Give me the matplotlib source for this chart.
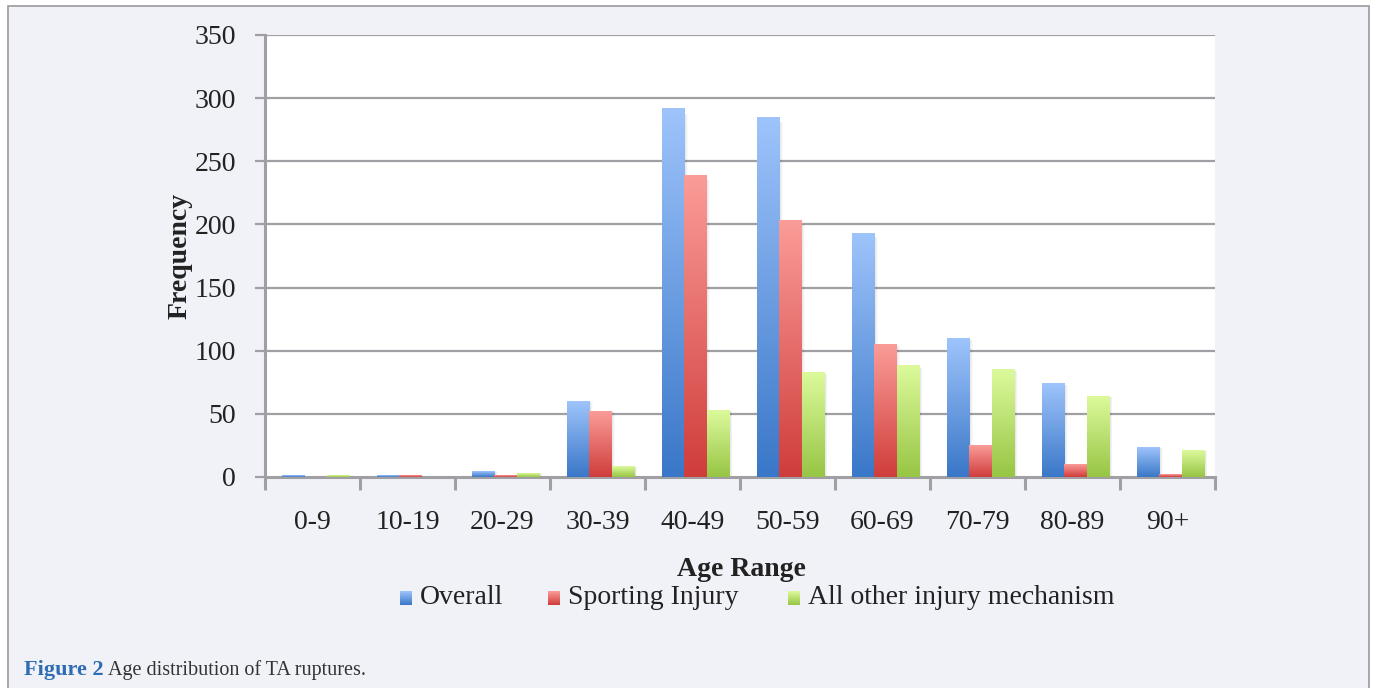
import numpy as np
import matplotlib
matplotlib.use("Agg")
import matplotlib.pyplot as plt
from matplotlib.patches import Rectangle
from matplotlib.colors import LinearSegmentedColormap

age_ranges = ["0-9", "10-19", "20-29", "30-39", "40-49", "50-59",
              "60-69", "70-79", "80-89", "90+"]
overall = [1, 1, 4, 60, 292, 285, 193, 110, 74, 23]
sporting = [0, 1, 1, 52, 239, 203, 105, 25, 10, 2]
other_mechanism = [1, 0, 3, 8, 53, 83, 88, 85, 64, 21]
series_names = ["Overall", "Sporting Injury", "All other injury mechanism"]
y_ticks = [0, 50, 100, 150, 200, 250, 300, 350]

# (top colour, bottom colour) for the vertical gradient fills
gradients = [("#9ec4fb", "#3a77c8"),
             ("#fb9c98", "#cf3d3b"),
             ("#dcfa9c", "#97c544")]

plt.rcParams["font.family"] = ["Liberation Serif", "DejaVu Serif"]

fig = plt.figure(figsize=(13.75, 6.88), dpi=100)
fig.patch.set_facecolor("white")

# page panel behind the figure
panel = Rectangle((8 / 1375, -0.01), (1369 - 8) / 1375, (688 - 6) / 688 + 0.01,
                  transform=fig.transFigure, facecolor="#f1f2f8",
                  edgecolor="#9a9a9e", linewidth=1.2, zorder=-10)
fig.patches.append(panel)

ax = fig.add_axes([265 / 1375, (688 - 477) / 688, 950 / 1375, 442 / 688])
ax.set_facecolor("white")
ax.set_xlim(0, len(age_ranges))
ax.set_ylim(0, 350)

grid_col = "#a0a0a4"
for t in y_ticks[1:]:
    ax.axhline(t, color=grid_col, linewidth=1.6, zorder=1)

bar_w = 0.235
start = 0.18
data = [overall, sporting, other_mechanism]


def gradient_bar(x, h, top, bottom, z=3):
    if h <= 0:
        return
    cmap = LinearSegmentedColormap.from_list("g", [bottom, top])
    grad = np.linspace(0, 1, 256).reshape(-1, 1)
    # soft shadow to the right of the bar
    for k, a in enumerate([0.05, 0.04, 0.03, 0.02]):
        ax.add_patch(Rectangle((x + bar_w - 0.004, 0), 0.01 * (k + 1),
                               h * 0.985, facecolor="black", alpha=a,
                               linewidth=0, zorder=z - 1))
    ax.imshow(grad, cmap=cmap, aspect="auto", origin="lower",
              extent=(x, x + bar_w, 0, h), zorder=z, vmin=0, vmax=1,
              interpolation="bilinear")


for s, vals in enumerate(data):
    top, bottom = gradients[s]
    for i, v in enumerate(vals):
        gradient_bar(i + start + s * bar_w, v, top, bottom)

ax.set_xlim(0, len(age_ranges))
ax.set_ylim(0, 350)

for side in ["top", "right"]:
    ax.spines[side].set_visible(False)
for side in ["left", "bottom"]:
    ax.spines[side].set_color(grid_col)
    ax.spines[side].set_linewidth(2.2)
    ax.spines[side].set_zorder(2.5)

ax.set_yticks(y_ticks)
ax.set_yticklabels([str(t) for t in y_ticks], fontsize=20, color="#222222")
ax.tick_params(axis="y", length=7, width=1.6, color=grid_col, pad=14)

ax.set_xticks(np.arange(len(age_ranges) + 1))
ax.set_xticklabels([])
ax.set_xticks(np.arange(len(age_ranges)) + 0.5, minor=True)
ax.set_xticklabels(age_ranges, minor=True, fontsize=20, color="#222222")
ax.tick_params(axis="x", which="major", length=9, width=2.2, color=grid_col)
ax.tick_params(axis="x", which="minor", length=0, pad=24)

ax.set_ylabel("Frequency", fontsize=20, fontweight="bold", labelpad=1,
              color="#222222")

fig.text(741 / 1375, 1 - 569 / 688, "Age Range", fontsize=20,
         fontweight="bold", ha="center", va="center", color="#222222")

# legend entries with gradient swatches
legend_items = [(400, "Overall"), (548, "Sporting Injury"),
                (788, "All other injury mechanism")]
legend_y = 1 - 597 / 688
for (px, label), (top, bottom) in zip(legend_items, gradients):
    lax = fig.add_axes([px / 1375, (688 - 605) / 688, 12 / 1375, 14 / 688])
    cmap = LinearSegmentedColormap.from_list("g", [bottom, top])
    lax.imshow(np.linspace(0, 1, 64).reshape(-1, 1), cmap=cmap,
               aspect="auto", origin="lower")
    lax.axis("off")
    fig.text((px + 20) / 1375, legend_y, label, fontsize=20,
             ha="left", va="center", color="#222222")

fig.text(24 / 1375, 1 - 670 / 688, "Figure 2", fontsize=16,
         fontweight="bold", color="#2e6db4", ha="left", va="center")
fig.text(108 / 1375, 1 - 670 / 688, "Age distribution of TA ruptures.",
         fontsize=14.5, color="#333333", ha="left", va="center")

fig.savefig("out.png", dpi=100, facecolor=fig.get_facecolor())
